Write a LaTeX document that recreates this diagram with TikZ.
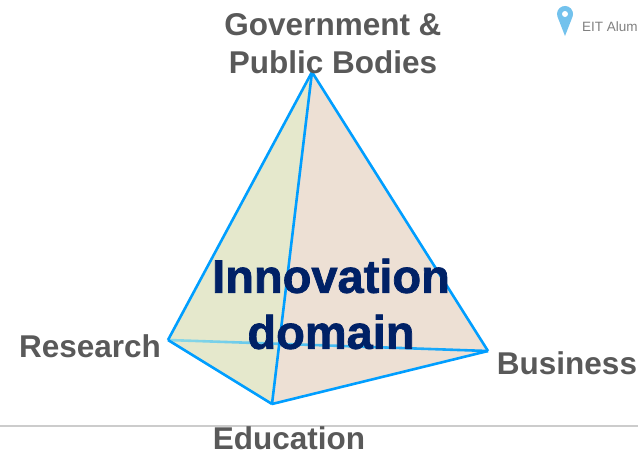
\documentclass[tikz,border=0pt]{standalone}
\usepackage{fontspec}
\setmainfont{Liberation Sans}
\newfontfamily\heavyfont[BoldFeatures={FakeBold=1.5}]{Liberation Sans}
\usetikzlibrary{calc, backgrounds}
\definecolor{edgeblue}{rgb}{0.0, 0.62, 1.0}
\definecolor{backblue}{rgb}{0.55, 0.85, 0.90}
\definecolor{faceolive}{rgb}{0.90, 0.91, 0.80}
\definecolor{facerose}{rgb}{0.93, 0.88, 0.83}
\definecolor{labelgrey}{rgb}{0.35, 0.35, 0.35}
\definecolor{titlenavy}{rgb}{0.0, 0.13, 0.40}
\definecolor{pinblue}{rgb}{0.45, 0.76, 0.93}
\begin{document}
\begin{tikzpicture}[x=1pt,y=-1pt,
    every node/.style={inner sep=0pt},
    corner/.style={circle, minimum size=0pt},
    vertexlabel/.style={text=labelgrey, font=\bfseries\fontsize{31.5}{38}\selectfont, align=center},
    titlelabel/.style={text=titlenavy, font=\heavyfont\bfseries\fontsize{47}{56}\selectfont, align=center},
    edge/.style={draw=edgeblue, line width=2.6pt, line join=round}]
            \useasboundingbox (0,0) rectangle (638,451);
            \node[corner] (gov) at (312,72) {};
            \node[corner] (res) at (168,340) {};
            \node[corner] (edu) at (272,404) {};
            \node[corner] (bus) at (488,351) {};
            % faces
            \fill[faceolive] (gov.center) -- (res.center) -- (edu.center) -- cycle;
            \fill[facerose] (gov.center) -- (edu.center) -- (bus.center) -- cycle;
            % ground line
            \coordinate (groundl) at (0,426);
            \coordinate (groundr) at (638,426);
            \draw[black!20, line width=1.4pt] (groundl) -- (groundr);
            % back edge
            \shade[left color=backblue, right color=edgeblue] (res.center) -- ($(res.center)+(0,-1.3)$) -- ($(bus.center)+(0,-1.3)$) -- ($(bus.center)+(0,1.3)$) -- ($(res.center)+(0,1.3)$) -- cycle;
            \path[edge] (gov.center) edge (res.center) edge (edu.center) edge (bus.center)
                (res.center) edge (edu.center)
                (edu.center) edge (bus.center);
            % labels
            \node[vertexlabel] (govlabel) at (333,44) {Government \&\\Public Bodies};
            \node[vertexlabel] (reslabel) at (90,346) {Research};
            \node[vertexlabel] (buslabel) at (567,363) {Business};
            \node[vertexlabel, align=none, anchor=base] (edulabel) at (289,449) {Education};
            \node[titlelabel] (title) at (331,304) {Innovation\\domain};
            % pin
            \fill[pinblue] (565,36) -- (557.5,16.7) arc[start angle=160, end angle=380, radius=8] -- cycle;
            \fill[white] (565,14) circle (3);
            \node[text=gray, font=\fontsize{13.5}{16}\selectfont, anchor=west] (alum) at (582,27) {EIT Alum};
        \end{tikzpicture}
\end{document}
